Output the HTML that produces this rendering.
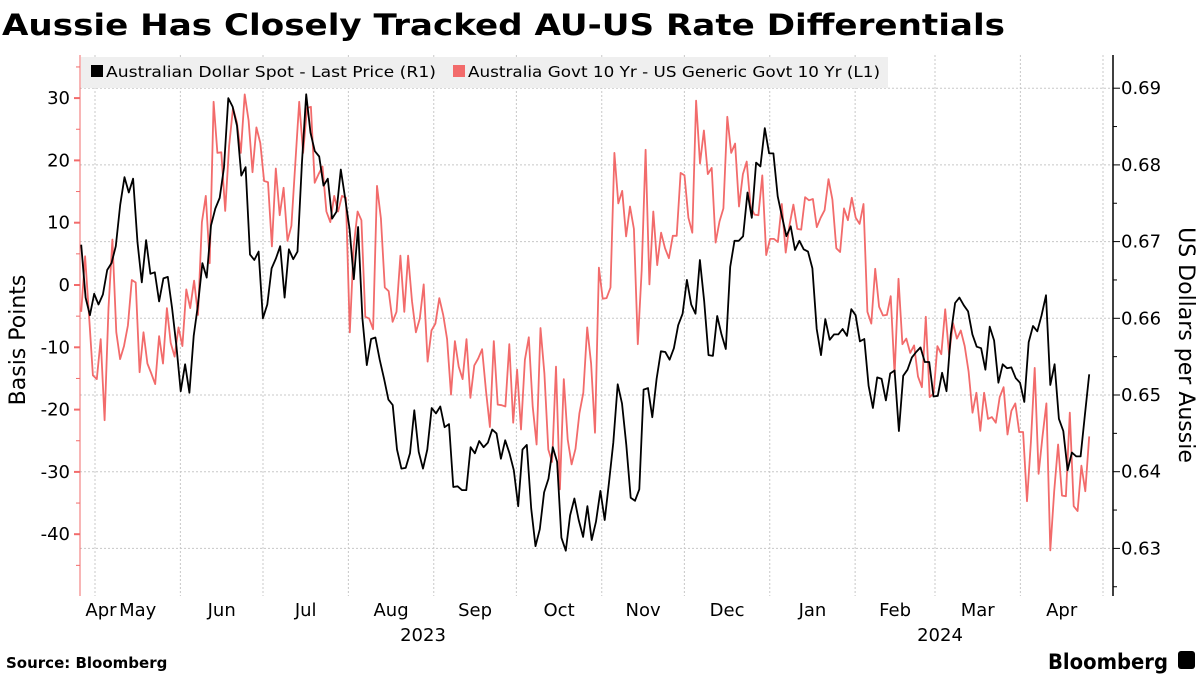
<!DOCTYPE html>
<html><head><meta charset="utf-8"><style>
html,body{margin:0;padding:0;background:#fff;}
svg{display:block;font-family:"DejaVu Sans","Liberation Sans",sans-serif;}
</style></head><body>
<svg id="chart" width="1200" height="675" viewBox="0 0 1200 675" xmlns="http://www.w3.org/2000/svg">
<text x="2" y="35" font-size="29" font-weight="bold" textLength="1003" lengthAdjust="spacingAndGlyphs" fill="#000">Aussie Has Closely Tracked AU-US Rate Differentials</text>
<g id="grid"></g>
<rect x="81" y="57" width="807" height="31" fill="#efefef"/>
<rect x="91" y="65" width="12" height="12" fill="#000"/>
<text x="106" y="77" font-size="15" textLength="330" lengthAdjust="spacingAndGlyphs">Australian Dollar Spot - Last Price (R1)</text>
<rect x="453" y="65" width="12" height="12" fill="#f26b6b"/>
<text x="468" y="77" font-size="15" textLength="412" lengthAdjust="spacingAndGlyphs">Australia Govt 10 Yr - US Generic Govt 10 Yr (L1)</text>
<g id="axes"></g>
<g id="series"></g>
<text transform="translate(25,340) rotate(-90)" text-anchor="middle" font-size="22">Basis Points</text>
<text transform="translate(1179,345) rotate(90)" text-anchor="middle" font-size="22">US Dollars per Aussie</text>
<text x="6" y="668" font-size="15" font-weight="bold">Source: Bloomberg</text>
<text x="1048" y="669" font-size="21" font-weight="bold" textLength="120" lengthAdjust="spacingAndGlyphs">Bloomberg</text>
<rect x="1178" y="651" width="17" height="18" rx="3" fill="#000"/>
</svg>
<script>
const startDate = "2023-04-26";
const endDate = "2024-04-26";
const leftTicks = [30, 20, 10, 0, -10, -20, -30, -40];
const rightTicks = [0.69, 0.68, 0.67, 0.66, 0.65, 0.64, 0.63];
const monthLabels = ["Apr","May","Jun","Jul","Aug","Sep","Oct","Nov","Dec","Jan","Feb","Mar","Apr"];
const monthStarts = ["2023-05-01","2023-06-01","2023-07-01","2023-08-01","2023-09-01","2023-10-01","2023-11-01","2023-12-01","2024-01-01","2024-02-01","2024-03-01","2024-04-01","2024-05-01"];
const yearLabels = ["2023","2024"];
const audSpot = [0.6696,0.6627,0.6604,0.6632,0.6618,0.6631,0.6663,0.6672,0.6694,0.6748,0.6784,0.6764,0.6782,0.6699,0.6647,0.6702,0.6658,0.6660,0.6622,0.6652,0.6654,0.6613,0.6564,0.6505,0.6540,0.6503,0.6577,0.6618,0.6672,0.6653,0.6721,0.6743,0.6757,0.6797,0.6887,0.6876,0.6851,0.6786,0.6797,0.6683,0.6676,0.6687,0.6600,0.6618,0.6665,0.6678,0.6694,0.6627,0.6690,0.6677,0.6687,0.6802,0.6892,0.6842,0.6818,0.6811,0.6773,0.6782,0.6730,0.6739,0.6794,0.6757,0.6717,0.6651,0.6719,0.6600,0.6539,0.6573,0.6575,0.6546,0.6521,0.6494,0.6487,0.6429,0.6404,0.6405,0.6424,0.6480,0.6426,0.6404,0.6429,0.6483,0.6476,0.6485,0.6458,0.6462,0.6380,0.6381,0.6376,0.6376,0.6432,0.6424,0.6440,0.6432,0.6438,0.6455,0.6450,0.6417,
0.6441,0.6424,0.6402,0.6355,0.6429,0.6435,0.6352,0.6303,0.6325,0.6373,0.6391,0.6432,0.6413,0.6314,0.6297,0.6343,0.6365,0.6337,0.6315,0.6355,0.6311,0.6335,0.6375,0.6337,0.6386,0.6438,0.6514,0.6489,0.6435,0.6366,0.6362,0.6377,0.6507,0.6509,0.6471,0.6521,0.6557,0.6556,0.6546,0.6561,0.6591,0.6606,0.6650,0.6618,0.6606,0.6676,0.6622,0.6552,0.6551,0.6603,0.6579,0.6560,0.6667,0.6701,0.6701,0.6707,0.6764,0.6731,0.6803,0.6798,0.6848,0.6815,0.6815,0.6759,0.6732,0.6707,0.6720,0.6689,0.6701,0.6690,0.6687,0.6665,0.6586,0.6552,0.6599,0.6572,0.6579,0.6579,0.6586,0.6577,0.6612,0.6604,0.6570,0.6573,0.6512,0.6483,0.6523,0.6521,0.6493,0.6528,0.6532,0.6453,0.6525,0.6533,0.6549,
0.6556,0.6562,0.6543,0.6543,0.6498,0.6499,0.6529,0.6505,0.6579,0.6620,0.6627,0.6617,0.6609,0.6579,0.6563,0.6561,0.6533,0.6589,0.6571,0.6516,0.6540,0.6535,0.6536,0.6522,0.6516,0.6491,0.6569,0.6590,0.6583,0.6604,0.6630,0.6513,0.6540,0.6469,0.6453,0.6402,0.6425,0.6420,0.6420,0.6474,0.6527];
const rateSpread = [-4.3,4.6,-4.8,-14.5,-15.1,-8.7,-21.7,-3.7,7.3,-7.6,-11.9,-9.8,-6.5,0.8,0.4,-14.0,-7.6,-12.6,-14.2,-15.9,-8.2,-12.6,-3.7,-9.3,-11.5,-6.8,-9.8,-0.7,-3.7,0.7,-4.8,10.1,14.3,3.5,29.4,21.2,21.3,11.9,22.3,28.4,26.1,21.2,30.6,26.4,18.1,25.3,22.8,16.7,16.5,6.2,18.7,11.2,15.6,7.1,9.5,19.5,29.4,21.2,28.4,28.6,16.4,17.8,19.0,11.8,10.1,14.3,11.8,14.3,14.0,-7.6,6.2,11.8,10.4,-5.1,-5.4,-7.1,15.9,10.7,-0.4,-1.0,-5.9,-4.3,4.7,-4.3,4.7,-2.6,-7.6,-5.4,0.1,-12.3,-7.3,-6.2,-2.1,-4.8,-8.7,-17.6,-9.0,-13.1,-15.1,-8.7,-18.1,-12.9,-11.8,-10.3,-17.0,-22.8,-9.0,-19.2,-19.3,-19.5,
-9.5,-22.1,-13.6,-23.2,-12.0,-8.4,-19.5,-25.6,-6.9,-14.2,-26.4,-28.4,-13.1,-32.8,-15.1,-24.8,-28.8,-26.3,-20.6,-17.3,-6.8,-12.6,-23.7,2.8,-2.2,-2.1,-0.4,21.2,13.1,15.1,7.8,12.6,9.0,-9.5,2.4,21.7,0.1,11.8,3.2,8.4,5.9,4.3,7.9,7.9,18.0,17.6,10.8,8.4,29.6,19.5,24.8,17.8,18.8,6.8,10.2,12.3,27.0,21.2,22.7,12.6,17.8,19.8,12.6,11.3,11.2,17.6,4.8,7.4,7.4,6.9,13.0,5.2,9.7,12.9,9.0,8.9,14.1,13.6,13.8,9.3,10.8,12.0,17.0,13.7,5.9,5.3,12.3,10.4,14.0,10.8,9.8,13.0,-4.3,-6.2,2.6,-3.5,-4.9,-4.8,-1.8,-14.4,1.0,-9.5,-8.6,-10.9,
-9.7,-14.7,-16.4,-5.1,-18.0,-17.4,-9.8,-11.1,-3.9,-11.2,-6.1,-8.6,-7.3,-9.8,-13.9,-20.5,-17.3,-23.4,-17.3,-21.5,-21.2,-22.1,-18.0,-16.4,-24.0,-20.2,-19.0,-23.6,-23.6,-34.7,-25.2,-13.3,-30.3,-24.3,-19.0,-42.6,-33.1,-25.6,-33.8,-33.9,-20.5,-35.5,-36.3,-29.0,-33.1,-24.3];

const NS = "http://www.w3.org/2000/svg";
const PL = 80, PR = 1113, PT = 55, PB = 596;
const T0 = Date.parse("2023-05-01"), T1 = Date.parse("2024-05-01");
function xDate(s){ return 95 + (Date.parse(s) - T0) / (T1 - T0) * (1103 - 95); }
function xMs(ms){ return 95 + (ms - T0) / (T1 - T0) * (1103 - 95); }
function yLeft(v){ return 285 - v * 6.23; }
function yRight(v){ return 395 - (v - 0.65) * 7670; }
function mk(tag, attrs, parent){ const e = document.createElementNS(NS, tag); for (const k in attrs) e.setAttribute(k, attrs[k]); parent.appendChild(e); return e; }

const grid = document.getElementById("grid");
const axes = document.getElementById("axes");
const series = document.getElementById("series");

monthStarts.forEach(function(d){
  const x = xDate(d);
  if (x > PR) return;
  const l = mk("line", {x1:x, x2:x, y1:PT, y2:PB, stroke:"#c8c8c8", "stroke-width":1, "stroke-dasharray":"2,2"}, grid);
  
  
});
rightTicks.forEach(function(v){
  const y = yRight(v);
  const l = mk("line", {x1:PL, x2:PR, y1:y, y2:y, stroke:"#c8c8c8", "stroke-width":1, "stroke-dasharray":"2,2"}, grid);
  
  
});

const la = mk("line", {x1:PL, x2:PL, y1:PT, y2:PB, stroke:"#f26b6b", "stroke-width":1}, axes);


for (let v = 35; v >= -45; v -= 5) {
  const y = yLeft(v);
  const major = (v % 10 === 0);
  const t = mk("line", {x1:major?74:76, x2:PL, y1:y, y2:y, stroke:"#f26b6b", "stroke-width":major?2:1}, axes);
  
  
}
leftTicks.forEach(function(v){
  const t = mk("text", {x:70, y:yLeft(v)+6, "text-anchor":"end", "font-size":18}, axes);
  t.textContent = v;
  
  
});
const ra = mk("line", {x1:PR, x2:PR, y1:PT, y2:PB, stroke:"#000", "stroke-width":1.5}, axes);


for (let k = 0; k <= 14; k++) {
  const v = 0.625 + k * 0.005;
  const y = yRight(v);
  if (y < PT || y > PB) continue;
  const major = (k % 2 === 1);
  const t = mk("line", {x1:PR, x2:PR+(major?7:4), y1:y, y2:y, stroke:"#000", "stroke-width":1}, axes);
  
  
}
rightTicks.forEach(function(v){
  const t = mk("text", {x:1121, y:yRight(v)+6, "font-size":18}, axes);
  t.textContent = v.toFixed(2);
  
  
});
monthLabels.forEach(function(m, i){
  let cx;
  if (i === 0) cx = 101;
  else cx = (xDate(monthStarts[i-1]) + xDate(monthStarts[i])) / 2;
  const t = mk("text", {x:cx, y:616, "text-anchor":"middle", "font-size":18}, axes);
  t.textContent = m;
  
  
});
const yr1 = mk("text", {x:423, y:641, "text-anchor":"middle", "font-size":18}, axes);
yr1.textContent = yearLabels[0];


const yr2 = mk("text", {x:940, y:641, "text-anchor":"middle", "font-size":18}, axes);
yr2.textContent = yearLabels[1];



function linePath(vals, yf){
  const a = Date.parse(startDate), b = Date.parse(endDate);
  const n = vals.length;
  return vals.map(function(v, i){
    const x = xMs(a + (b - a) * i / (n - 1));
    return (i ? "L" : "M") + x.toFixed(1) + "," + yf(v).toFixed(1);
  }).join("");
}
const redLine = mk("path", {d:linePath(rateSpread, yLeft), fill:"none", stroke:"#f26b6b", "stroke-width":1.8, "stroke-linejoin":"round"}, series);


const blackLine = mk("path", {d:linePath(audSpot, yRight), fill:"none", stroke:"#000", "stroke-width":1.8, "stroke-linejoin":"round"}, series);


</script>
</body></html>
